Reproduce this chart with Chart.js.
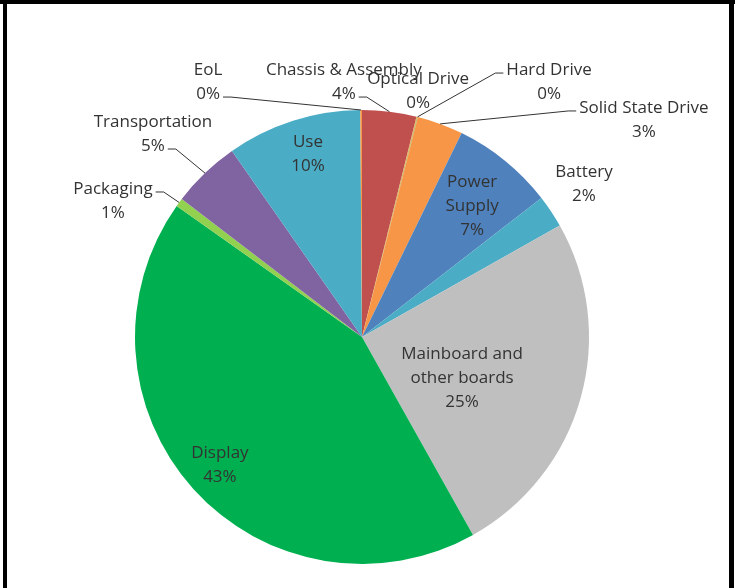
<!DOCTYPE html>
<html>
<head>
<meta charset="utf-8">
<script src="https://cdn.jsdelivr.net/npm/chart.js@4.4.0/dist/chart.umd.min.js"></script>
<style>
  body { margin: 0; background: #fff; }
  #wrap { position: relative; width: 737px; height: 588px; overflow: hidden; }
  #pie { position: absolute; left: 0; top: 0; }
  .bar { position: absolute; background: #000; }
</style>
</head>
<body>
<div id="wrap">
  <canvas id="pie" width="737" height="588"></canvas>
  <div class="bar" style="left:0;top:0;width:735px;height:4px"></div>
  <div class="bar" style="left:3px;top:0;width:4px;height:588px"></div>
  <div class="bar" style="left:729px;top:0;width:5px;height:588px"></div>
</div>
<script>
// data (share of total, percent)
const categories = ['Chassis & Assembly','Optical Drive','Hard Drive','Solid State Drive','Power Supply','Battery',
                    'Mainboard and other boards','Display','Packaging','Transportation','Use','EoL'];
const values = [3.86, 0.05, 0.05, 3.28, 7.28, 2.33, 25.06, 42.97, 0.6, 4.9, 9.6, 0.12];

// styling
const colors = ['#C0504D','#F79646','#9BBB59','#F79646','#4F81BD','#4BACC6',
                '#BFBFBF','#00B050','#92D050','#8064A2','#4BACC6','#F79646'];
const labelLines = [['Chassis & Assembly'],['Optical Drive'],['Hard Drive'],['Solid State Drive'],['Power','Supply'],['Battery'],
                    ['Mainboard and','other boards'],['Display'],['Packaging'],['Transportation'],['Use'],['EoL']];
// first text line centre, relative to pie centre in radius units
const labelPos = [[-0.08,-1.176],[0.247,-1.137],[0.824,-1.176],[1.242,-1.009],[0.485,-0.683],[0.978,-0.727],
                  [0.441,0.075],[-0.626,0.511],[-1.097,-0.652],[-0.921,-0.947],[-0.238,-0.859],[-0.678,-1.176]];
// which text line the leader starts from (null = no leader)
const leaderLine = [1,null,0,0,null,null,null,null,0,1,null,1];

const FONT = '17px "Open Sans"';
const LINE_H = 24;

const sliceLabels = {
  id: 'sliceLabels',
  afterDatasetsDraw(chart) {
    const ctx = chart.ctx;
    const arcs = chart.getDatasetMeta(0).data;
    const total = values.reduce((a, b) => a + b, 0);
    ctx.save();
    ctx.font = FONT;
    ctx.fillStyle = '#333';
    ctx.strokeStyle = '#333';
    ctx.lineWidth = 1;
    ctx.textAlign = 'center';
    ctx.textBaseline = 'middle';
    arcs.forEach((arc, i) => {
      const p = arc.getProps(['x','y','startAngle','endAngle','outerRadius'], true);
      const lines = labelLines[i].concat(Math.round(values[i] / total * 100) + '%');
      const lx = p.x + labelPos[i][0] * p.outerRadius;
      const ly = p.y + labelPos[i][1] * p.outerRadius;
      lines.forEach((t, k) => ctx.fillText(t, lx, ly + k * LINE_H));
      const li = leaderLine[i];
      if (li !== null) {
        const mid = (p.startAngle + p.endAngle) / 2;
        const ex = p.x + Math.cos(mid) * p.outerRadius;
        const ey = p.y + Math.sin(mid) * p.outerRadius;
        const w = ctx.measureText(lines[li]).width;
        const side = ex > lx ? 1 : -1;
        const ax = lx + side * (w / 2 + 3);
        const ay = ly + li * LINE_H + 3;
        ctx.beginPath();
        ctx.moveTo(ax, ay);
        ctx.lineTo(ax + side * 8, ay);
        ctx.lineTo(ex, ey);
        ctx.stroke();
      }
    });
    ctx.restore();
  }
};

new Chart(document.getElementById('pie'), {
  type: 'pie',
  data: {
    labels: categories,
    datasets: [{ data: values, backgroundColor: colors, borderWidth: 0 }]
  },
  options: {
    responsive: false,
    animation: false,
    layout: { padding: { left: 100, right: 113, top: 110, bottom: 24 } },
    plugins: { legend: { display: false }, tooltip: { enabled: false } }
  },
  plugins: [sliceLabels]
});
</script>
</body>
</html>
